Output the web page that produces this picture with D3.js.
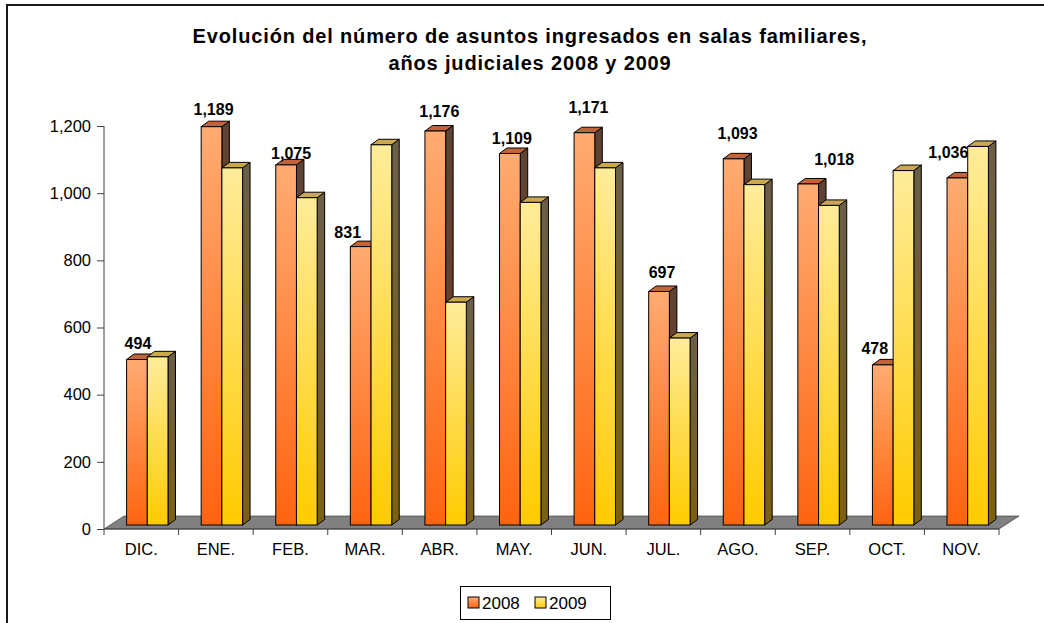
<!DOCTYPE html>
<html>
<head>
<meta charset="utf-8">
<script src="https://cdn.jsdelivr.net/npm/d3@7"></script>
<style>
  body { margin: 0; background: #fff; }
  text { font-family: "Liberation Sans", Arial, sans-serif; }
</style>
</head>
<body>
<div id="chart"></div>
<script>
const months = ["DIC.", "ENE.", "FEB.", "MAR.", "ABR.", "MAY.", "JUN.", "JUL.", "AGO.", "SEP.", "OCT.", "NOV."];
const series = ["2008", "2009"];
const values2008 = [494, 1189, 1075, 831, 1176, 1109, 1171, 697, 1093, 1018, 478, 1036];
const values2009 = [502, 1066, 977, 1135, 665, 963, 1066, 558, 1016, 954, 1058, 1130];
const yTicks = [0, 200, 400, 600, 800, 1000, 1200];
const titleLines = ["Evolución del número de asuntos ingresados en salas familiares,", "años judiciales 2008 y 2009"];

// hand-moved data labels (offset from default spot), like in the original sheet
const labelNudge = [[-1, 0], [0, -1], [3, 5], [-15, 2], [2, -3], [0, 2], [2, -9], [1, -3], [2, -9], [24, -8], [-10, 0], [-11, -9]];

const width = 1044, height = 623;
const depth = {x: 7.5, y: 5.5};     // bar depth
const floorDepth = {x: 20, y: 13};  // floor depth
const barBase = 525;

const svg = d3.select("#chart").append("svg")
    .attr("width", width)
    .attr("height", height);

const defs = svg.append("defs");
const grad = (id, top, bottom) => {
    const g = defs.append("linearGradient").attr("id", id)
        .attr("x1", 0).attr("y1", 0).attr("x2", 0).attr("y2", 1);
    g.append("stop").attr("offset", "0%").attr("stop-color", top);
    g.append("stop").attr("offset", "100%").attr("stop-color", bottom);
};
grad("front0", "#ffab72", "#ff6410");
grad("front1", "#ffec9a", "#ffcb00");
grad("side0", "#5e4334", "#7a3c1c");
grad("side1", "#6a5e48", "#7d6010");

const colors = {
    front: ["url(#front0)", "url(#front1)"],
    side: ["url(#side0)", "url(#side1)"],
    top: ["#c0643c", "#c9a84e"]
};

// chart frame
svg.append("rect")
    .attr("x", 7).attr("y", 5)
    .attr("width", 1100).attr("height", 700)
    .attr("fill", "none")
    .attr("stroke", "#1a1a1a")
    .attr("stroke-width", 2);

// title
svg.append("text")
    .attr("x", 530).attr("y", 43)
    .attr("text-anchor", "middle")
    .style("font-size", "20px").style("font-weight", "bold")
    .style("letter-spacing", "0.85px")
    .selectAll("tspan")
    .data(titleLines)
    .enter().append("tspan")
    .attr("x", 530)
    .attr("dy", (d, i) => i === 0 ? 0 : 27)
    .text(d => d);

const x = d3.scaleBand()
    .domain(months)
    .range([104, 999]);

const y = d3.scaleLinear()
    .domain([0, 1200])
    .range([529, 126]);

const yBar = d3.scaleLinear()
    .domain([0, 1200])
    .range([barBase, 123]);

const barW = 20.7;
const shift = 6;

// floor
const [fx0, fx1] = x.range();
svg.append("polygon")
    .attr("points", [
        [fx0, y(0)], [fx0 + floorDepth.x, y(0) - floorDepth.y],
        [fx1 + floorDepth.x, y(0) - floorDepth.y], [fx1, y(0)]
    ].join(" "))
    .attr("fill", "#808080")
    .attr("stroke", "#404040")
    .attr("stroke-width", 0.7);

// bars
const rows = months.map((m, i) => ({month: m, vals: [values2008[i], values2009[i]], i}));

const groups = svg.append("g").selectAll("g")
    .data(rows)
    .enter().append("g");

groups.each(function(d) {
    const g = d3.select(this);
    const cx = x(d.month) + x.bandwidth() / 2 + shift;
    d.vals.forEach((v, s) => {
        const x0 = cx - barW + s * barW;
        const x1 = x0 + barW;
        const t = yBar(v);
        g.append("polygon")
            .attr("points", [[x1, t], [x1 + depth.x, t - depth.y], [x1 + depth.x, barBase - depth.y], [x1, barBase]].join(" "))
            .attr("fill", colors.side[s])
            .attr("stroke", "#000").attr("stroke-width", 1).attr("stroke-linejoin", "round");
        g.append("polygon")
            .attr("points", [[x0, t], [x0 + depth.x, t - depth.y], [x1 + depth.x, t - depth.y], [x1, t]].join(" "))
            .attr("fill", colors.top[s])
            .attr("stroke", "#000").attr("stroke-width", 1).attr("stroke-linejoin", "round");
        g.append("rect")
            .attr("x", x0).attr("y", t)
            .attr("width", barW).attr("height", barBase - t)
            .attr("fill", colors.front[s])
            .attr("stroke", "#000").attr("stroke-width", 1);
    });
});

// data labels (2008 only)
groups.append("text")
    .attr("x", d => x(d.month) + x.bandwidth() / 2 + shift - barW / 2 + 2 + labelNudge[d.i][0])
    .attr("y", d => yBar(d.vals[0]) - 17 + 6 + labelNudge[d.i][1])
    .attr("text-anchor", "middle")
    .style("font-size", "16px").style("font-weight", "bold")
    .text(d => d3.format(",")(d.vals[0]));

// y axis
const yAxis = svg.append("g")
    .attr("transform", `translate(${fx0},0)`)
    .call(d3.axisLeft(y).tickValues(yTicks).tickFormat(d3.format(",")).tickSize(7).tickPadding(6));
yAxis.selectAll("text").style("font-size", "16.5px").attr("fill", "#000");
yAxis.selectAll("line, path").attr("stroke", "#404040");
yAxis.select("path").attr("d", `M0,${y(1200)}V${y(0)}`);

// x axis
const xAxis = svg.append("g")
    .attr("transform", `translate(0,${y(0)})`)
    .call(d3.axisBottom(x).tickSize(0).tickPadding(14));
xAxis.select("path").attr("stroke", "#404040").attr("d", `M${fx0},0H${fx1}`);
xAxis.selectAll("text").style("font-size", "16.5px").attr("fill", "#000");
xAxis.append("g").selectAll("line")
    .data(months.map(m => x(m)).concat([fx1]))
    .enter().append("line")
    .attr("x1", d => d).attr("x2", d => d)
    .attr("y1", 0).attr("y2", 6)
    .attr("stroke", "#404040");

// legend
const legend = svg.append("g");
legend.append("rect")
    .attr("x", 460.5).attr("y", 586.5)
    .attr("width", 150).attr("height", 33)
    .attr("fill", "#fff").attr("stroke", "#000");
const items = legend.selectAll("g.item")
    .data(series)
    .enter().append("g")
    .attr("class", "item")
    .attr("transform", (d, i) => `translate(${468 + i * 67},597)`);
items.append("rect")
    .attr("width", 11).attr("height", 11)
    .attr("fill", (d, i) => colors.front[i])
    .attr("stroke", "#000");
items.append("text")
    .attr("x", 14).attr("y", 12)
    .style("font-size", "17px")
    .text(d => d);
</script>
</body>
</html>
